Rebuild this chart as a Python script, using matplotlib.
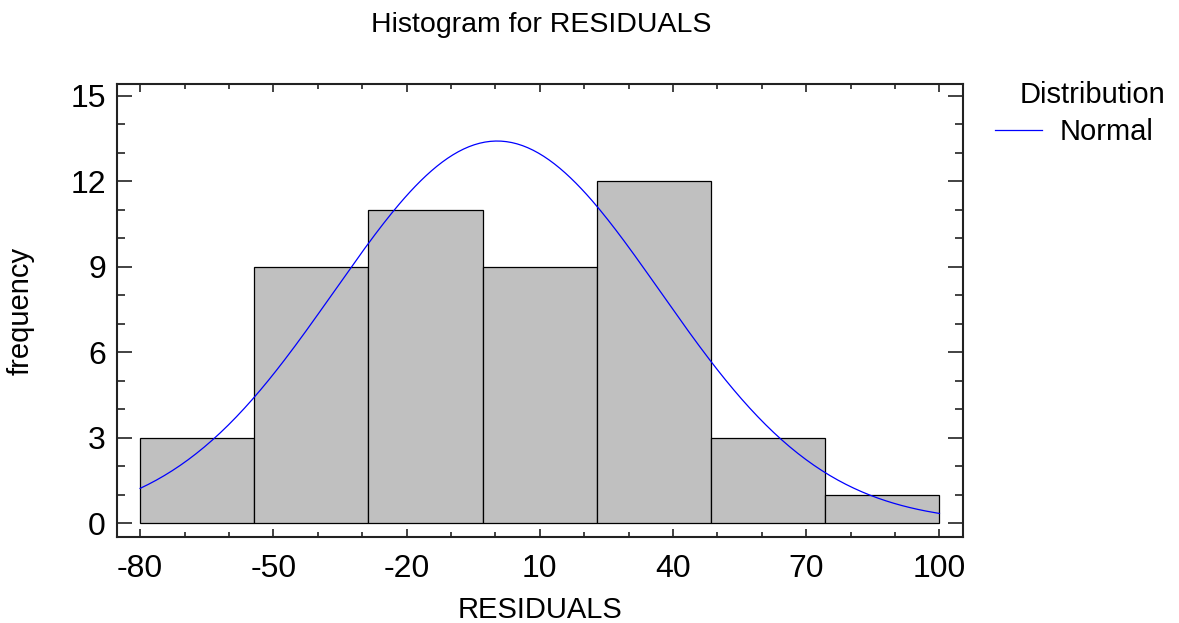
import numpy as np
import matplotlib
matplotlib.use("Agg")
import matplotlib.pyplot as plt
from matplotlib.ticker import MultipleLocator

# histogram of residuals, 7 classes from -80 to 100
bin_edges = [-80, -54.29, -28.57, -2.86, 22.86, 48.57, 74.29, 100]
counts = [3, 9, 11, 9, 12, 3, 1]

# fitted normal distribution
fit_mean = 0.4
fit_sd = 36.7

x_ticks = [-80, -50, -20, 10, 40, 70, 100]
y_ticks = [0, 3, 6, 9, 12, 15]

plt.rcParams["font.family"] = ["Liberation Sans", "DejaVu Sans"]
plt.rcParams["axes.unicode_minus"] = False

fig = plt.figure(figsize=(11.79, 6.23), dpi=100)
ax = fig.add_axes([117 / 1179, 86 / 623, 846 / 1179, 453 / 623])

widths = np.diff(bin_edges)
ax.bar(bin_edges[:-1], counts, width=widths, align="edge",
       color="#c0c0c0", edgecolor="black", linewidth=0.9, zorder=2)

n = sum(counts)
bw = widths.mean()
xs = np.linspace(bin_edges[0], bin_edges[-1], 300)
ys = n * bw / (fit_sd * np.sqrt(2 * np.pi)) * np.exp(-0.5 * ((xs - fit_mean) / fit_sd) ** 2)
ax.plot(xs, ys, color="blue", linewidth=0.9, zorder=3, label="Normal")

ax.set_xlim(-85.2, 105.3)
ax.set_ylim(-0.49, 15.42)
ax.set_xticks(x_ticks)
ax.set_yticks(y_ticks)
ax.xaxis.set_minor_locator(MultipleLocator(10))
ax.yaxis.set_minor_locator(MultipleLocator(1))
ax.tick_params(axis="both", which="both", direction="in", top=True, right=True,
               labelsize=23, width=1.2, color="#222222")
ax.tick_params(axis="y", which="major", length=11, pad=8)
ax.tick_params(axis="y", which="minor", length=5.5)
ax.tick_params(axis="x", which="major", length=6, pad=12)
ax.tick_params(axis="x", which="minor", length=3.5)
for s in ax.spines.values():
    s.set_linewidth(1.5)
    s.set_color("#222222")

ax.set_xlabel("RESIDUALS", fontsize=21, labelpad=9)
ax.set_ylabel("frequency", fontsize=21, labelpad=26)
fig.text(541 / 1179, 1 - 25 / 623, "Histogram for RESIDUALS", fontsize=20.5,
         ha="center", va="center")

# legend: title placed separately, entry below it
fig.text(1020 / 1179, 1 - 95 / 623, "Distribution", fontsize=21,
         ha="left", va="center")
ax.legend(loc="center left", bbox_to_anchor=(995 / 1179, 1 - 132 / 623),
          bbox_transform=fig.transFigure, frameon=False, fontsize=21,
          borderpad=0, borderaxespad=0, handlelength=1.6, handletextpad=0.62)

fig.savefig("out.png", dpi=100)
